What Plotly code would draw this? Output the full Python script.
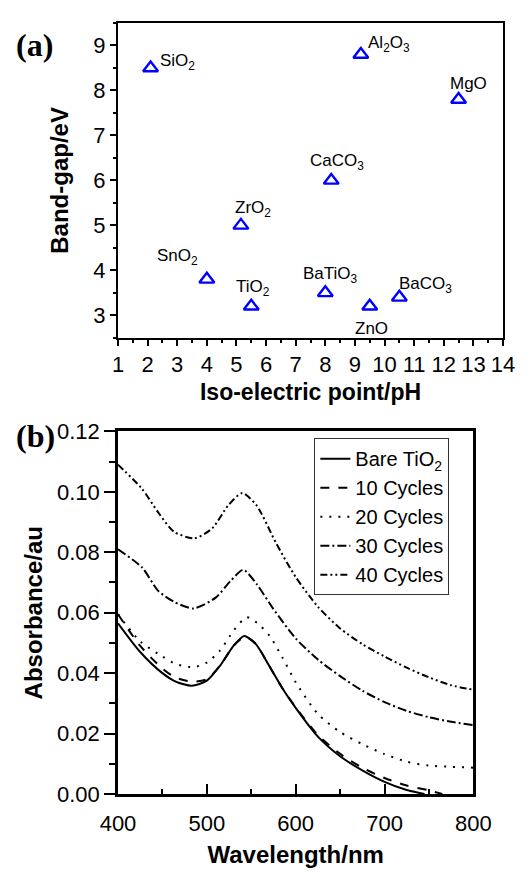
import plotly.graph_objects as go

# ---------------- Panel (a) data ----------------
oxides = ["SiO<sub>2</sub>", "Al<sub>2</sub>O<sub>3</sub>", "MgO", "CaCO<sub>3</sub>", "ZrO<sub>2</sub>",
          "SnO<sub>2</sub>", "TiO<sub>2</sub>", "BaTiO<sub>3</sub>", "ZnO", "BaCO<sub>3</sub>"]
iep = [2.1, 9.2, 12.5, 8.2, 5.15, 4.0, 5.5, 8.0, 9.5, 10.5]
band_gap = [8.5, 8.8, 7.8, 6.0, 5.0, 3.8, 3.2, 3.5, 3.2, 3.4]

# ---------------- Panel (b) data ----------------
wl_bare = [400, 425, 450, 465, 483, 500, 515, 530, 542, 555, 570, 585, 600, 625, 650, 675, 700, 725, 745]
abs_bare = [0.0565, 0.0470, 0.0400, 0.0372, 0.0358, 0.0375, 0.0425, 0.0490, 0.0523, 0.0497, 0.0425,
            0.0350, 0.0285, 0.0190, 0.0125, 0.0078, 0.0040, 0.0013, 0.0000]

wl_10 = [400, 425, 450, 465, 483, 500, 515, 530, 543, 555, 570, 585, 600, 625, 650, 675, 700, 725, 750, 765]
abs_10 = [0.0595, 0.0490, 0.0415, 0.0385, 0.0372, 0.0380, 0.0425, 0.0490, 0.0520, 0.0497, 0.0425,
          0.0350, 0.0287, 0.0195, 0.0133, 0.0087, 0.0053, 0.0028, 0.0012, 0.0000]

wl_20 = [400, 425, 450, 465, 485, 500, 515, 530, 545, 557, 571, 585, 600, 625, 650, 675, 700, 725, 750, 775, 800]
abs_20 = [0.0595, 0.0505, 0.0455, 0.0430, 0.0420, 0.0435, 0.0475, 0.0540, 0.0585, 0.0565, 0.0522,
          0.0452, 0.0370, 0.0265, 0.0205, 0.0165, 0.0132, 0.0107, 0.0094, 0.0090, 0.0087]

wl_30 = [400, 427, 445, 463, 485, 510, 527, 541, 556, 575, 600, 625, 650, 675, 700, 725, 750, 775, 800]
abs_30 = [0.0810, 0.0750, 0.0673, 0.0636, 0.0614, 0.0650, 0.0706, 0.0742, 0.0695, 0.0612, 0.0515,
          0.0445, 0.0390, 0.0342, 0.0304, 0.0275, 0.0254, 0.0239, 0.0228]

wl_40 = [400, 427, 445, 463, 486, 506, 524, 540, 556, 578, 600, 625, 650, 675, 700, 725, 750, 775, 800]
abs_40 = [0.1090, 0.1010, 0.0933, 0.0868, 0.0846, 0.0879, 0.0955, 0.0996, 0.0955, 0.0830, 0.0718,
          0.0620, 0.0548, 0.0496, 0.0455, 0.0418, 0.0386, 0.0360, 0.0345]

series_names = ["Bare TiO<sub>2</sub>", "10 Cycles", "20 Cycles", "30 Cycles", "40 Cycles"]
x_ticks_a = list(range(1, 15))
y_ticks_a = list(range(3, 10))
x_ticks_b = [400, 500, 600, 700, 800]
y_ticks_b = [0.00, 0.02, 0.04, 0.06, 0.08, 0.10, 0.12]

# ---------------- styles ----------------
FONT = "Arial, 'Liberation Sans', Helvetica, sans-serif"
label_offsets = {  # (xshift, yshift, xanchor)
    0: (7, 6, "left"), 1: (5, 10, "left"), 2: (10, 16, "center"), 3: (6, 18, "center"),
    4: (12, 16, "center"), 5: (-7, 22, "right"), 6: (2, 18, "center"), 7: (5, 18, "center"),
    8: (2, -22, "center"), 9: (-2, 12, "left"),
}
dashes = ["solid", "dash", "2px,7px", "9px,3px,2px,3px", "7px,3px,2px,3px,2px,3px"]

fig = go.Figure()

fig.add_trace(go.Scatter(
    x=iep, y=band_gap, mode="markers", xaxis="x", yaxis="y", showlegend=False,
    marker=dict(symbol="triangle-up-open", size=13, color="#0000ff", line=dict(width=2.4, color="#0000ff")),
))

for i, (wl, ab) in enumerate([(wl_bare, abs_bare), (wl_10, abs_10), (wl_20, abs_20), (wl_30, abs_30), (wl_40, abs_40)]):
    fig.add_trace(go.Scatter(
        x=wl, y=ab, mode="lines", name=series_names[i], xaxis="x2", yaxis="y2",
        line=dict(color="black", width=2, dash=dashes[i], shape="spline", smoothing=0.7),
    ))

annotations = []
for i, (lab, xv, yv) in enumerate(zip(oxides, iep, band_gap)):
    xs, ys, xa = label_offsets[i]
    annotations.append(dict(x=xv, y=yv, xref="x", yref="y", text=lab, showarrow=False,
                            xshift=xs, yshift=ys, xanchor=xa, yanchor="middle",
                            font=dict(family=FONT, size=17, color="black")))
annotations.append(dict(x=-0.216, y=0.971, xref="paper", yref="paper", text="<b>(a)</b>", showarrow=False,
                        xanchor="center", yanchor="middle",
                        font=dict(family="'Times New Roman', 'Liberation Serif', serif", size=32, color="black")))
annotations.append(dict(x=-0.213, y=0.464, xref="paper", yref="paper", text="<b>(b)</b>", showarrow=False,
                        xanchor="center", yanchor="middle",
                        font=dict(family="'Times New Roman', 'Liberation Serif', serif", size=32, color="black")))

axis_common = dict(showgrid=False, zeroline=False, showline=True, linecolor="black", mirror=True,
                   tickcolor="black", tickfont=dict(family=FONT, size=22, color="black"))

fig.update_layout(
    width=532, height=876,
    margin=dict(l=118, r=11, t=12, b=73),
    paper_bgcolor="white", plot_bgcolor="white",
    font=dict(family=FONT, color="black"),
    xaxis=dict(**axis_common, domain=[0, 1], anchor="y", range=[1, 14],
               tickvals=x_ticks_a, ticks="outside", ticklen=6, tickwidth=1.5, linewidth=2,
               minor=dict(dtick=0.5, tick0=1, ticks="outside", ticklen=3, tickwidth=1.5, tickcolor="black"),
               title=dict(text="<b>Iso-electric point/pH</b>", font=dict(family=FONT, size=23), standoff=8)),
    yaxis=dict(**axis_common, domain=[0.5917, 1.0], anchor="x", range=[2.5, 9.5],
               tickvals=y_ticks_a, ticks="outside", ticklen=6, tickwidth=1.5, linewidth=2,
               minor=dict(dtick=0.5, tick0=3, ticks="outside", ticklen=3, tickwidth=1.5, tickcolor="black"),
               title=dict(text="<b>Band-gap/eV</b>", font=dict(family=FONT, size=24), standoff=18)),
    xaxis2=dict(**axis_common, domain=[0, 0.923], anchor="y2", range=[400, 800],
                tickvals=x_ticks_b, ticks="inside", ticklen=10, tickwidth=2, linewidth=2.5,
                ticklabelstandoff=8,
                minor=dict(dtick=50, tick0=400, ticks="inside", ticklen=5, tickwidth=2, tickcolor="black"),
                title=dict(text="<b>Wavelength/nm</b>", font=dict(family=FONT, size=24), standoff=12)),
    yaxis2=dict(**axis_common, domain=[0, 0.4703], anchor="x2", range=[0, 0.12],
                tickvals=y_ticks_b, tickformat=".2f", ticks="outside", ticklen=11, tickwidth=2, linewidth=2.5,
                minor=dict(dtick=0.01, tick0=0, ticks="outside", ticklen=6, tickwidth=2, tickcolor="black"),
                title=dict(text="<b>Absorbance/au</b>", font=dict(family=FONT, size=24), standoff=8)),
    legend=dict(x=0.51, y=0.4615, xanchor="left", yanchor="top",
                bordercolor="#333333", borderwidth=1, bgcolor="white",
                font=dict(family=FONT, size=20, color="black"), tracegroupgap=0),
    annotations=annotations,
)

fig.write_html("out.html")
